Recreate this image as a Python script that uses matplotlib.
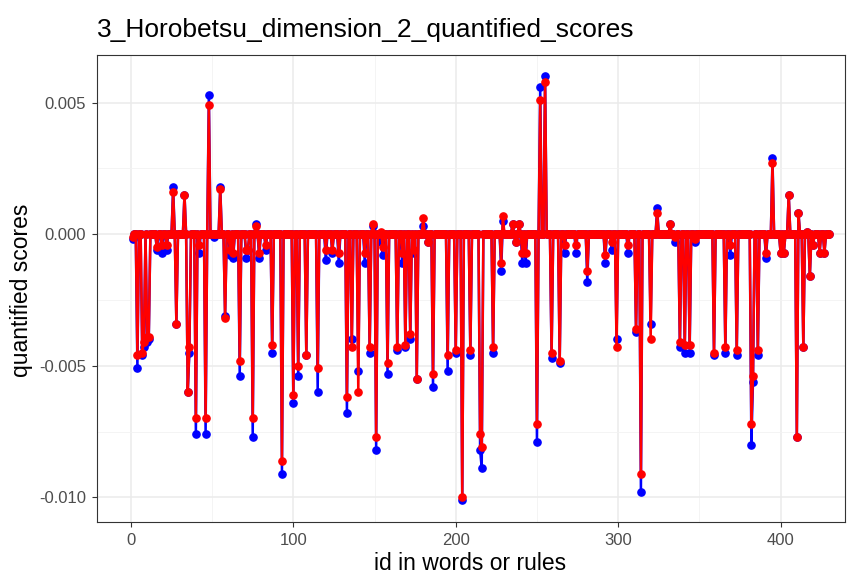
import numpy as np
import matplotlib
matplotlib.use('Agg')
import matplotlib.pyplot as plt
from matplotlib.ticker import MultipleLocator, FuncFormatter

plt.rcParams['font.family'] = ['Liberation Sans', 'DejaVu Sans']

title = '3_Horobetsu_dimension_2_quantified_scores'
n_ids = 430

# ids with a non-zero score; every other id sits at 0
spike_ids = [1, 4, 7, 8, 10, 11, 16, 19, 22, 26, 28, 33, 35, 36, 40, 42, 46, 48, 51, 55,
             58, 61, 63, 67, 71, 72, 75, 77, 79, 83, 87, 93, 100, 103, 108, 115, 120, 124, 128, 133,
             136, 140, 144, 147, 149, 151, 154, 155, 158, 164, 167, 169, 172, 174, 176, 180, 183, 186, 195, 200,
             204, 209, 215, 216, 223, 228, 229, 235, 237, 239, 241, 243, 250, 252, 255, 259, 264, 267, 274, 281,
             292, 296, 299, 306, 311, 314, 320, 324, 332, 335, 338, 341, 344, 347, 359, 366, 369, 373, 382, 383,
             386, 391, 395, 400, 402, 405, 410, 411, 414, 416, 418, 420, 424, 427]

red_scores = [-0.0001, -0.0046, -0.0045, -0.0041, -0.0039, -0.0039, -0.0005, -0.0004, -0.0004, 0.0016,
              -0.0034, 0.0015, -0.0060, -0.0043, -0.0070, -0.0004, -0.0070, 0.0049, 0.0000, 0.0017,
              -0.0032, -0.0006, -0.0007, -0.0048, -0.0006, -0.0006, -0.0070, 0.0003, -0.0007, -0.0004,
              -0.0042, -0.0086, -0.0061, -0.0050, -0.0046, -0.0051, -0.0006, -0.0006, -0.0007, -0.0062,
              -0.0043, -0.0060, -0.0007, -0.0043, 0.0004, -0.0077, 0.0001, -0.0005, -0.0049, -0.0043,
              -0.0007, -0.0042, -0.0038, -0.0006, -0.0055, 0.0006, -0.0003, -0.0053, -0.0046, -0.0044,
              -0.0100, -0.0044, -0.0076, -0.0081, -0.0043, -0.0011, 0.0007, 0.0004, -0.0003, 0.0004,
              -0.0007, -0.0007, -0.0072, 0.0051, 0.0058, -0.0045, -0.0048, -0.0004, -0.0004, -0.0014,
              -0.0008, -0.0003, -0.0043, -0.0004, -0.0036, -0.0091, -0.0040, 0.0008, 0.0004, -0.0001,
              -0.0041, -0.0042, -0.0042, -0.0002, -0.0045, -0.0043, -0.0004, -0.0044, -0.0072, -0.0054,
              -0.0044, -0.0007, 0.0027, -0.0007, -0.0007, 0.0015, -0.0077, 0.0008, -0.0043, 0.0001,
              -0.0016, -0.0004, -0.0007, -0.0007]

blue_scores = [-0.0002, -0.0051, -0.0046, -0.0043, -0.0041, -0.0040, -0.0006, -0.0007, -0.0006, 0.0018,
               -0.0034, 0.0015, -0.0060, -0.0045, -0.0076, -0.0007, -0.0076, 0.0053, -0.0001, 0.0018,
               -0.0031, -0.0008, -0.0009, -0.0054, -0.0009, -0.0006, -0.0077, 0.0004, -0.0009, -0.0006,
               -0.0045, -0.0091, -0.0064, -0.0054, -0.0046, -0.0060, -0.0010, -0.0007, -0.0011, -0.0068,
               -0.0040, -0.0052, -0.0011, -0.0045, 0.0003, -0.0082, -0.0003, -0.0008, -0.0053, -0.0044,
               -0.0011, -0.0043, -0.0040, -0.0007, -0.0055, 0.0003, -0.0003, -0.0058, -0.0052, -0.0045,
               -0.0101, -0.0046, -0.0082, -0.0089, -0.0045, -0.0014, 0.0005, 0.0004, -0.0003, 0.0004,
               -0.0011, -0.0011, -0.0079, 0.0056, 0.0060, -0.0047, -0.0049, -0.0007, -0.0007, -0.0018,
               -0.0011, -0.0006, -0.0040, -0.0007, -0.0037, -0.0098, -0.0034, 0.0010, 0.0004, -0.0003,
               -0.0043, -0.0045, -0.0045, -0.0003, -0.0046, -0.0045, -0.0008, -0.0046, -0.0080, -0.0056,
               -0.0046, -0.0009, 0.0029, -0.0007, -0.0007, 0.0015, -0.0077, 0.0008, -0.0043, 0.0001,
               -0.0016, -0.0004, -0.0007, -0.0007]

ids = np.arange(1, n_ids + 1)
red = np.zeros(n_ids)
blue = np.zeros(n_ids)
red[np.array(spike_ids) - 1] = red_scores
blue[np.array(spike_ids) - 1] = blue_scores

fig = plt.figure(figsize=(8.49, 5.75), dpi=100)
ax = fig.add_axes([0.114, 0.092, 0.881, 0.812])

ax.plot(ids, blue, '-o', color='blue', lw=1.8, ms=5.2, zorder=3)
ax.plot(ids, red, '-o', color='red', lw=1.8, ms=5.2, zorder=4)

ax.set_xlim(-21, 439.5)
ax.set_ylim(-0.01094, 0.0068)

ax.xaxis.set_major_locator(MultipleLocator(100))
ax.xaxis.set_minor_locator(MultipleLocator(50))
ax.yaxis.set_major_locator(MultipleLocator(0.005))
ax.yaxis.set_minor_locator(MultipleLocator(0.0025))
ax.yaxis.set_major_formatter(FuncFormatter(lambda v, p: f'{v:.3f}'.replace('-0.000', '0.000')))

ax.grid(which='major', color='#EBEBEB', lw=1.1, zorder=0)
ax.grid(which='minor', color='#F2F2F2', lw=0.6, zorder=0)
ax.set_axisbelow(True)
for s in ax.spines.values():
    s.set_color('#333333')
    s.set_linewidth(0.8)

ax.tick_params(which='major', length=3.5, width=0.8, color='#333333',
               labelsize=12, labelcolor='#4D4D4D', pad=4)
ax.tick_params(which='minor', length=0)

# axis titles and plot title placed in figure pixels
fig.text(470 / 849, 1 - 564 / 575, 'id in words or rules', fontsize=16.5, ha='center', va='center')
fig.text(22 / 849, 1 - 290 / 575, 'quantified scores', fontsize=16.5, ha='center', va='center',
         rotation=90)
fig.text(97 / 849, 1 - 30 / 575, title, fontsize=19, ha='left', va='center')

fig.savefig('out.png', dpi=100)
